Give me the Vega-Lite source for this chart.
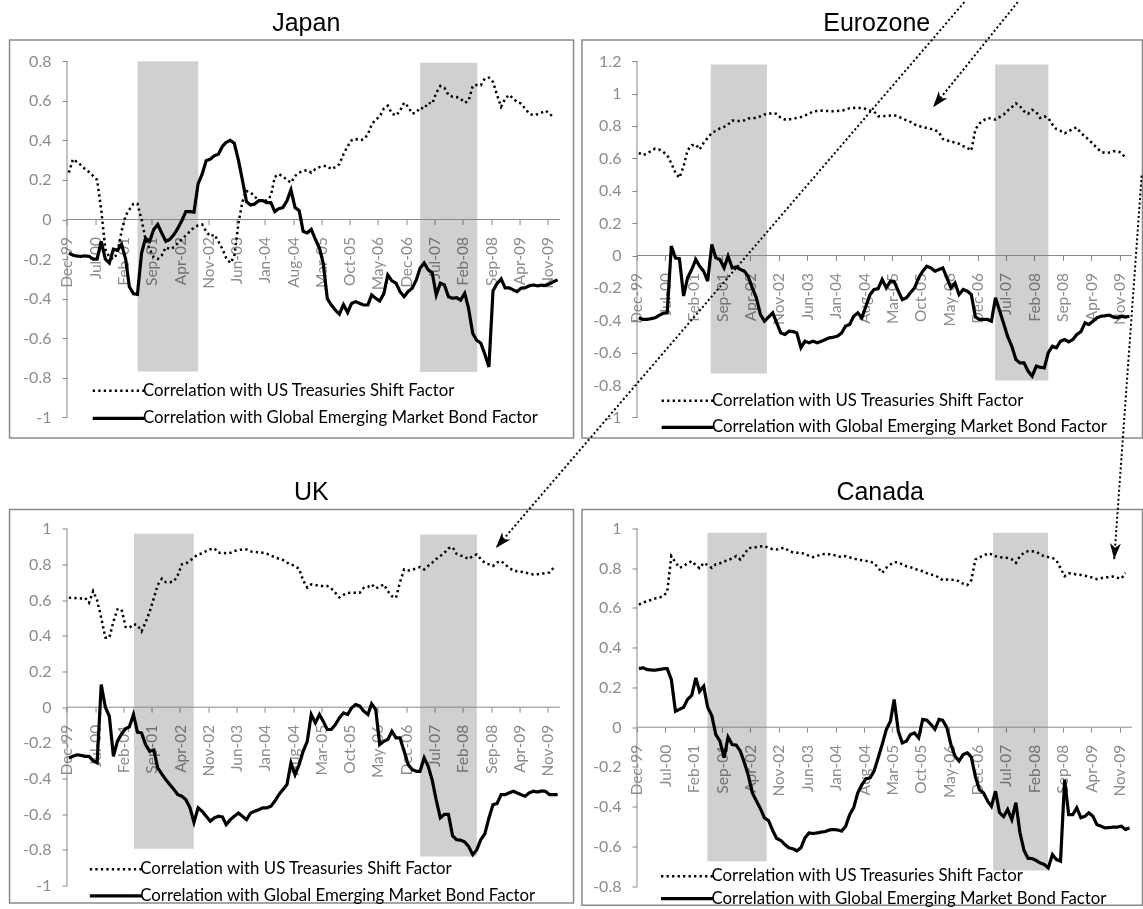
{
  "$schema": "https://vega.github.io/schema/vega-lite/v6.json",
  "background": "white",
  "padding": {"left": 8.55, "top": 0, "right": 0, "bottom": 0},
  "datasets": {
    "jp": [
      {"d":"1999-12-15","u":0.237,"g":-0.17},{"d":"2000-01-15","u":0.305,"g":-0.18},{"d":"2000-02-15","u":0.29,"g":-0.185},{"d":"2000-03-15","u":0.275,"g":-0.186},{"d":"2000-04-15","u":0.255,"g":-0.184},{"d":"2000-05-15","u":0.24,"g":-0.186},{"d":"2000-06-15","u":0.22,"g":-0.2},{"d":"2000-07-15","u":0.2,"g":-0.2},{"d":"2000-08-15","u":0.05,"g":-0.11},{"d":"2000-09-15","u":-0.15,"g":-0.2},{"d":"2000-10-15","u":-0.19,"g":-0.22},{"d":"2000-11-15","u":-0.2,"g":-0.15},{"d":"2000-12-15","u":-0.17,"g":-0.155},
      {"d":"2001-01-15","u":-0.06,"g":-0.125},{"d":"2001-02-15","u":0.02,"g":-0.2},{"d":"2001-03-15","u":0.05,"g":-0.34},{"d":"2001-04-15","u":0.08,"g":-0.375},{"d":"2001-05-15","u":0.08,"g":-0.378},{"d":"2001-06-15","u":0.0,"g":-0.17},{"d":"2001-07-15","u":-0.1,"g":-0.095},{"d":"2001-08-15","u":-0.15,"g":-0.11},{"d":"2001-09-15","u":-0.19,"g":-0.05},{"d":"2001-10-15","u":-0.2,"g":-0.025},{"d":"2001-11-15","u":-0.18,"g":-0.07},{"d":"2001-12-15","u":-0.14,"g":-0.11},
      {"d":"2002-01-15","u":-0.15,"g":-0.1},{"d":"2002-02-15","u":-0.14,"g":-0.075},{"d":"2002-03-15","u":-0.12,"g":-0.045},{"d":"2002-04-15","u":-0.1,"g":-0.005},{"d":"2002-05-15","u":-0.08,"g":0.04},{"d":"2002-06-15","u":-0.06,"g":0.04},{"d":"2002-07-15","u":-0.04,"g":0.037},{"d":"2002-08-15","u":-0.03,"g":0.18},{"d":"2002-09-15","u":-0.025,"g":0.23},{"d":"2002-10-15","u":-0.06,"g":0.297},{"d":"2002-11-15","u":-0.085,"g":0.305},{"d":"2002-12-15","u":-0.076,"g":0.322},
      {"d":"2003-01-15","u":-0.11,"g":0.33},{"d":"2003-02-15","u":-0.15,"g":0.37},{"d":"2003-03-15","u":-0.195,"g":0.39},{"d":"2003-04-15","u":-0.22,"g":0.4},{"d":"2003-05-15","u":-0.186,"g":0.385},{"d":"2003-06-15","u":-0.02,"g":0.3},{"d":"2003-07-15","u":0.09,"g":0.2},{"d":"2003-08-15","u":0.144,"g":0.09},{"d":"2003-09-15","u":0.137,"g":0.073},{"d":"2003-10-15","u":0.115,"g":0.078},{"d":"2003-11-15","u":0.1,"g":0.095},{"d":"2003-12-15","u":0.093,"g":0.095},
      {"d":"2004-01-15","u":0.097,"g":0.085},{"d":"2004-02-15","u":0.12,"g":0.085},{"d":"2004-03-15","u":0.215,"g":0.04},{"d":"2004-04-15","u":0.229,"g":0.055},{"d":"2004-05-15","u":0.218,"g":0.06},{"d":"2004-06-15","u":0.2,"g":0.095},{"d":"2004-07-15","u":0.186,"g":0.15},{"d":"2004-08-15","u":0.22,"g":0.06},{"d":"2004-09-15","u":0.237,"g":0.045},{"d":"2004-10-15","u":0.245,"g":-0.06},{"d":"2004-11-15","u":0.25,"g":-0.068},{"d":"2004-12-15","u":0.237,"g":-0.05},
      {"d":"2005-01-15","u":0.255,"g":-0.1},{"d":"2005-02-15","u":0.265,"g":-0.145},{"d":"2005-03-15","u":0.27,"g":-0.22},{"d":"2005-04-15","u":0.27,"g":-0.4},{"d":"2005-05-15","u":0.254,"g":-0.432},{"d":"2005-06-15","u":0.265,"g":-0.458},{"d":"2005-07-15","u":0.28,"g":-0.478},{"d":"2005-08-15","u":0.33,"g":-0.43},{"d":"2005-09-15","u":0.37,"g":-0.47},{"d":"2005-10-15","u":0.4,"g":-0.424},{"d":"2005-11-15","u":0.407,"g":-0.415},{"d":"2005-12-15","u":0.4,"g":-0.424},
      {"d":"2006-01-15","u":0.405,"g":-0.432},{"d":"2006-02-15","u":0.43,"g":-0.432},{"d":"2006-03-15","u":0.48,"g":-0.381},{"d":"2006-04-15","u":0.505,"g":-0.398},{"d":"2006-05-15","u":0.52,"g":-0.412},{"d":"2006-06-15","u":0.56,"g":-0.375},{"d":"2006-07-15","u":0.575,"g":-0.28},{"d":"2006-08-15","u":0.535,"g":-0.31},{"d":"2006-09-15","u":0.525,"g":-0.322},{"d":"2006-10-15","u":0.55,"g":-0.364},{"d":"2006-11-15","u":0.59,"g":-0.39},{"d":"2006-12-15","u":0.57,"g":-0.364},
      {"d":"2007-01-15","u":0.535,"g":-0.347},{"d":"2007-02-15","u":0.54,"g":-0.305},{"d":"2007-03-15","u":0.565,"g":-0.246},{"d":"2007-04-15","u":0.56,"g":-0.22},{"d":"2007-05-15","u":0.59,"g":-0.254},{"d":"2007-06-15","u":0.585,"g":-0.27},{"d":"2007-07-15","u":0.64,"g":-0.381},{"d":"2007-08-15","u":0.675,"g":-0.322},{"d":"2007-09-15","u":0.665,"g":-0.331},{"d":"2007-10-15","u":0.63,"g":-0.39},{"d":"2007-11-15","u":0.62,"g":-0.398},{"d":"2007-12-15","u":0.619,"g":-0.395},
      {"d":"2008-01-15","u":0.61,"g":-0.407},{"d":"2008-02-15","u":0.59,"g":-0.373},{"d":"2008-03-15","u":0.6,"g":-0.45},{"d":"2008-04-15","u":0.675,"g":-0.575},{"d":"2008-05-15","u":0.68,"g":-0.61},{"d":"2008-06-15","u":0.678,"g":-0.625},{"d":"2008-07-15","u":0.712,"g":-0.68},{"d":"2008-08-15","u":0.717,"g":-0.745},{"d":"2008-09-15","u":0.695,"g":-0.36},{"d":"2008-10-15","u":0.63,"g":-0.325},{"d":"2008-11-15","u":0.57,"g":-0.3},{"d":"2008-12-15","u":0.61,"g":-0.345},
      {"d":"2009-01-15","u":0.63,"g":-0.345},{"d":"2009-02-15","u":0.61,"g":-0.356},{"d":"2009-03-15","u":0.595,"g":-0.364},{"d":"2009-04-15","u":0.585,"g":-0.347},{"d":"2009-05-15","u":0.56,"g":-0.345},{"d":"2009-06-15","u":0.535,"g":-0.335},{"d":"2009-07-15","u":0.527,"g":-0.331},{"d":"2009-08-15","u":0.532,"g":-0.335},{"d":"2009-09-15","u":0.54,"g":-0.332},{"d":"2009-10-15","u":0.55,"g":-0.333},{"d":"2009-11-15","u":0.535,"g":-0.325},{"d":"2009-12-15","u":0.515,"g":-0.314},
      {"d":"2010-01-15","g":-0.305}
    ],
    "ez": [
      {"d":"1999-12-15","u":0.634,"g":-0.385},{"d":"2000-01-15","u":0.62,"g":-0.395},{"d":"2000-02-15","u":0.63,"g":-0.395},{"d":"2000-03-15","u":0.645,"g":-0.39},{"d":"2000-04-15","u":0.66,"g":-0.385},{"d":"2000-05-15","u":0.655,"g":-0.37},{"d":"2000-06-15","u":0.64,"g":-0.357},{"d":"2000-07-15","u":0.62,"g":-0.354},{"d":"2000-08-15","u":0.57,"g":0.058},{"d":"2000-09-15","u":0.51,"g":-0.015},{"d":"2000-10-15","u":0.48,"g":-0.02},{"d":"2000-11-15","u":0.55,"g":-0.25},{"d":"2000-12-15","u":0.65,"g":-0.138},
      {"d":"2001-01-15","u":0.681,"g":-0.086},{"d":"2001-02-15","u":0.685,"g":-0.025},{"d":"2001-03-15","u":0.655,"g":-0.066},{"d":"2001-04-15","u":0.696,"g":-0.097},{"d":"2001-05-15","u":0.727,"g":-0.158},{"d":"2001-06-15","u":0.757,"g":0.068},{"d":"2001-07-15","u":0.77,"g":-0.014},{"d":"2001-08-15","u":0.785,"g":-0.025},{"d":"2001-09-15","u":0.795,"g":-0.076},{"d":"2001-10-15","u":0.809,"g":-0.004},{"d":"2001-11-15","u":0.834,"g":-0.076},{"d":"2001-12-15","u":0.83,"g":-0.07},
      {"d":"2002-01-15","u":0.83,"g":-0.086},{"d":"2002-02-15","u":0.835,"g":-0.097},{"d":"2002-03-15","u":0.846,"g":-0.13},{"d":"2002-04-15","u":0.848,"g":-0.2},{"d":"2002-05-15","u":0.85,"g":-0.261},{"d":"2002-06-15","u":0.86,"g":-0.364},{"d":"2002-07-15","u":0.871,"g":-0.406},{"d":"2002-08-15","u":0.875,"g":-0.38},{"d":"2002-09-15","u":0.88,"g":-0.354},{"d":"2002-10-15","u":0.875,"g":-0.416},{"d":"2002-11-15","u":0.85,"g":-0.478},{"d":"2002-12-15","u":0.84,"g":-0.488},
      {"d":"2003-01-15","u":0.84,"g":-0.467},{"d":"2003-02-15","u":0.845,"g":-0.47},{"d":"2003-03-15","u":0.85,"g":-0.478},{"d":"2003-04-15","u":0.855,"g":-0.57},{"d":"2003-05-15","u":0.865,"g":-0.529},{"d":"2003-06-15","u":0.875,"g":-0.539},{"d":"2003-07-15","u":0.89,"g":-0.529},{"d":"2003-08-15","u":0.893,"g":-0.539},{"d":"2003-09-15","u":0.895,"g":-0.53},{"d":"2003-10-15","u":0.893,"g":-0.519},{"d":"2003-11-15","u":0.892,"g":-0.508},{"d":"2003-12-15","u":0.891,"g":-0.505},
      {"d":"2004-01-15","u":0.893,"g":-0.498},{"d":"2004-02-15","u":0.895,"g":-0.478},{"d":"2004-03-15","u":0.9,"g":-0.436},{"d":"2004-04-15","u":0.91,"g":-0.426},{"d":"2004-05-15","u":0.912,"g":-0.375},{"d":"2004-06-15","u":0.91,"g":-0.354},{"d":"2004-07-15","u":0.912,"g":-0.385},{"d":"2004-08-15","u":0.905,"g":-0.313},{"d":"2004-09-15","u":0.895,"g":-0.241},{"d":"2004-10-15","u":0.89,"g":-0.21},{"d":"2004-11-15","u":0.86,"g":-0.204},{"d":"2004-12-15","u":0.86,"g":-0.148},
      {"d":"2005-01-15","u":0.862,"g":-0.2},{"d":"2005-02-15","u":0.864,"g":-0.158},{"d":"2005-03-15","u":0.866,"g":-0.16},{"d":"2005-04-15","u":0.86,"g":-0.22},{"d":"2005-05-15","u":0.845,"g":-0.272},{"d":"2005-06-15","u":0.835,"g":-0.261},{"d":"2005-07-15","u":0.826,"g":-0.23},{"d":"2005-08-15","u":0.81,"g":-0.2},{"d":"2005-09-15","u":0.8,"g":-0.138},{"d":"2005-10-15","u":0.793,"g":-0.097},{"d":"2005-11-15","u":0.788,"g":-0.066},{"d":"2005-12-15","u":0.782,"g":-0.076},
      {"d":"2006-01-15","u":0.775,"g":-0.097},{"d":"2006-02-15","u":0.76,"g":-0.086},{"d":"2006-03-15","u":0.72,"g":-0.076},{"d":"2006-04-15","u":0.71,"g":-0.138},{"d":"2006-05-15","u":0.706,"g":-0.2},{"d":"2006-06-15","u":0.696,"g":-0.169},{"d":"2006-07-15","u":0.69,"g":-0.241},{"d":"2006-08-15","u":0.675,"g":-0.21},{"d":"2006-09-15","u":0.665,"g":-0.22},{"d":"2006-10-15","u":0.648,"g":-0.241},{"d":"2006-11-15","u":0.78,"g":-0.38},{"d":"2006-12-15","u":0.815,"g":-0.395},
      {"d":"2007-01-15","u":0.835,"g":-0.395},{"d":"2007-02-15","u":0.85,"g":-0.395},{"d":"2007-03-15","u":0.845,"g":-0.406},{"d":"2007-04-15","u":0.84,"g":-0.261},{"d":"2007-05-15","u":0.855,"g":-0.34},{"d":"2007-06-15","u":0.87,"g":-0.42},{"d":"2007-07-15","u":0.895,"g":-0.5},{"d":"2007-08-15","u":0.916,"g":-0.56},{"d":"2007-09-15","u":0.94,"g":-0.642},{"d":"2007-10-15","u":0.922,"g":-0.663},{"d":"2007-11-15","u":0.891,"g":-0.663},{"d":"2007-12-15","u":0.875,"g":-0.714},
      {"d":"2008-01-15","u":0.9,"g":-0.745},{"d":"2008-02-15","u":0.885,"g":-0.683},{"d":"2008-03-15","u":0.85,"g":-0.69},{"d":"2008-04-15","u":0.86,"g":-0.694},{"d":"2008-05-15","u":0.85,"g":-0.6},{"d":"2008-06-15","u":0.809,"g":-0.56},{"d":"2008-07-15","u":0.78,"g":-0.57},{"d":"2008-08-15","u":0.77,"g":-0.529},{"d":"2008-09-15","u":0.755,"g":-0.519},{"d":"2008-10-15","u":0.765,"g":-0.533},{"d":"2008-11-15","u":0.785,"g":-0.519},{"d":"2008-12-15","u":0.79,"g":-0.488},
      {"d":"2009-01-15","u":0.757,"g":-0.47},{"d":"2009-02-15","u":0.735,"g":-0.416},{"d":"2009-03-15","u":0.715,"g":-0.426},{"d":"2009-04-15","u":0.69,"g":-0.406},{"d":"2009-05-15","u":0.665,"g":-0.385},{"d":"2009-06-15","u":0.64,"g":-0.375},{"d":"2009-07-15","u":0.634,"g":-0.372},{"d":"2009-08-15","u":0.636,"g":-0.368},{"d":"2009-09-15","u":0.644,"g":-0.38},{"d":"2009-10-15","u":0.645,"g":-0.385},{"d":"2009-11-15","u":0.634,"g":-0.375},{"d":"2009-12-15","u":0.603,"g":-0.38},
      {"d":"2010-01-15","g":-0.375}
    ],
    "uk": [
      {"d":"1999-12-15","u":0.613,"g":-0.284},{"d":"2000-01-15","u":0.613,"g":-0.275},{"d":"2000-02-15","u":0.61,"g":-0.267},{"d":"2000-03-15","u":0.609,"g":-0.27},{"d":"2000-04-15","u":0.613,"g":-0.275},{"d":"2000-05-15","u":0.585,"g":-0.275},{"d":"2000-06-15","u":0.65,"g":-0.3},{"d":"2000-07-15","u":0.6,"g":-0.312},{"d":"2000-08-15","u":0.5,"g":0.127},{"d":"2000-09-15","u":0.39,"g":0.0},{"d":"2000-10-15","u":0.389,"g":-0.05},{"d":"2000-11-15","u":0.48,"g":-0.275},{"d":"2000-12-15","u":0.548,"g":-0.191},
      {"d":"2001-01-15","u":0.548,"g":-0.15},{"d":"2001-02-15","u":0.45,"g":-0.12},{"d":"2001-03-15","u":0.445,"g":-0.11},{"d":"2001-04-15","u":0.465,"g":-0.041},{"d":"2001-05-15","u":0.46,"g":-0.14},{"d":"2001-06-15","u":0.425,"g":-0.144},{"d":"2001-07-15","u":0.475,"g":-0.209},{"d":"2001-08-15","u":0.535,"g":-0.247},{"d":"2001-09-15","u":0.61,"g":-0.24},{"d":"2001-10-15","u":0.685,"g":-0.34},{"d":"2001-11-15","u":0.72,"g":-0.375},{"d":"2001-12-15","u":0.7,"g":-0.406},
      {"d":"2002-01-15","u":0.7,"g":-0.434},{"d":"2002-02-15","u":0.705,"g":-0.462},{"d":"2002-03-15","u":0.74,"g":-0.49},{"d":"2002-04-15","u":0.8,"g":-0.499},{"d":"2002-05-15","u":0.805,"g":-0.518},{"d":"2002-06-15","u":0.82,"g":-0.564},{"d":"2002-07-15","u":0.84,"g":-0.645},{"d":"2002-08-15","u":0.856,"g":-0.564},{"d":"2002-09-15","u":0.862,"g":-0.583},{"d":"2002-10-15","u":0.875,"g":-0.611},{"d":"2002-11-15","u":0.885,"g":-0.639},{"d":"2002-12-15","u":0.89,"g":-0.62},
      {"d":"2003-01-15","u":0.865,"g":-0.611},{"d":"2003-02-15","u":0.865,"g":-0.615},{"d":"2003-03-15","u":0.862,"g":-0.658},{"d":"2003-04-15","u":0.865,"g":-0.63},{"d":"2003-05-15","u":0.875,"g":-0.611},{"d":"2003-06-15","u":0.88,"g":-0.593},{"d":"2003-07-15","u":0.884,"g":-0.611},{"d":"2003-08-15","u":0.884,"g":-0.63},{"d":"2003-09-15","u":0.873,"g":-0.593},{"d":"2003-10-15","u":0.87,"g":-0.583},{"d":"2003-11-15","u":0.868,"g":-0.574},{"d":"2003-12-15","u":0.865,"g":-0.564},
      {"d":"2004-01-15","u":0.86,"g":-0.564},{"d":"2004-02-15","u":0.85,"g":-0.555},{"d":"2004-03-15","u":0.84,"g":-0.527},{"d":"2004-04-15","u":0.832,"g":-0.49},{"d":"2004-05-15","u":0.825,"g":-0.462},{"d":"2004-06-15","u":0.81,"g":-0.434},{"d":"2004-07-15","u":0.8,"g":-0.312},{"d":"2004-08-15","u":0.791,"g":-0.378},{"d":"2004-09-15","u":0.775,"g":-0.321},{"d":"2004-10-15","u":0.71,"g":-0.247},{"d":"2004-11-15","u":0.67,"g":-0.191},{"d":"2004-12-15","u":0.688,"g":-0.041},
      {"d":"2005-01-15","u":0.685,"g":-0.088},{"d":"2005-02-15","u":0.68,"g":-0.041},{"d":"2005-03-15","u":0.679,"g":-0.079},{"d":"2005-04-15","u":0.679,"g":-0.125},{"d":"2005-05-15","u":0.665,"g":-0.125},{"d":"2005-06-15","u":0.64,"g":-0.097},{"d":"2005-07-15","u":0.615,"g":-0.06},{"d":"2005-08-15","u":0.63,"g":-0.032},{"d":"2005-09-15","u":0.64,"g":-0.041},{"d":"2005-10-15","u":0.641,"g":-0.004},{"d":"2005-11-15","u":0.641,"g":0.015},{"d":"2005-12-15","u":0.641,"g":0.006},
      {"d":"2006-01-15","u":0.669,"g":-0.022},{"d":"2006-02-15","u":0.673,"g":-0.041},{"d":"2006-03-15","u":0.688,"g":0.019},{"d":"2006-04-15","u":0.666,"g":-0.013},{"d":"2006-05-15","u":0.675,"g":-0.209},{"d":"2006-06-15","u":0.688,"g":-0.191},{"d":"2006-07-15","u":0.65,"g":-0.181},{"d":"2006-08-15","u":0.622,"g":-0.135},{"d":"2006-09-15","u":0.613,"g":-0.172},{"d":"2006-10-15","u":0.7,"g":-0.172},{"d":"2006-11-15","u":0.772,"g":-0.247},{"d":"2006-12-15","u":0.766,"g":-0.321},
      {"d":"2007-01-15","u":0.77,"g":-0.35},{"d":"2007-02-15","u":0.778,"g":-0.359},{"d":"2007-03-15","u":0.785,"g":-0.359},{"d":"2007-04-15","u":0.772,"g":-0.284},{"d":"2007-05-15","u":0.791,"g":-0.33},{"d":"2007-06-15","u":0.81,"g":-0.41},{"d":"2007-07-15","u":0.83,"g":-0.52},{"d":"2007-08-15","u":0.847,"g":-0.62},{"d":"2007-09-15","u":0.865,"g":-0.6},{"d":"2007-10-15","u":0.89,"g":-0.6},{"d":"2007-11-15","u":0.897,"g":-0.72},{"d":"2007-12-15","u":0.86,"g":-0.742},
      {"d":"2008-01-15","u":0.85,"g":-0.745},{"d":"2008-02-15","u":0.841,"g":-0.755},{"d":"2008-03-15","u":0.83,"g":-0.78},{"d":"2008-04-15","u":0.847,"g":-0.826},{"d":"2008-05-15","u":0.856,"g":-0.8},{"d":"2008-06-15","u":0.83,"g":-0.742},{"d":"2008-07-15","u":0.809,"g":-0.71},{"d":"2008-08-15","u":0.8,"g":-0.621},{"d":"2008-09-15","u":0.791,"g":-0.546},{"d":"2008-10-15","u":0.81,"g":-0.54},{"d":"2008-11-15","u":0.819,"g":-0.49},{"d":"2008-12-15","u":0.8,"g":-0.49},
      {"d":"2009-01-15","u":0.781,"g":-0.48},{"d":"2009-02-15","u":0.765,"g":-0.471},{"d":"2009-03-15","u":0.762,"g":-0.48},{"d":"2009-04-15","u":0.759,"g":-0.49},{"d":"2009-05-15","u":0.755,"g":-0.499},{"d":"2009-06-15","u":0.748,"g":-0.48},{"d":"2009-07-15","u":0.744,"g":-0.471},{"d":"2009-08-15","u":0.745,"g":-0.475},{"d":"2009-09-15","u":0.748,"g":-0.47},{"d":"2009-10-15","u":0.75,"g":-0.471},{"d":"2009-11-15","u":0.755,"g":-0.49},{"d":"2009-12-15","u":0.781,"g":-0.49},
      {"d":"2010-01-15","g":-0.49}
    ],
    "ca": [
      {"d":"1999-12-15","u":0.617,"g":0.295},{"d":"2000-01-15","u":0.626,"g":0.299},{"d":"2000-02-15","u":0.635,"g":0.29},{"d":"2000-03-15","u":0.64,"g":0.288},{"d":"2000-04-15","u":0.648,"g":0.287},{"d":"2000-05-15","u":0.651,"g":0.29},{"d":"2000-06-15","u":0.66,"g":0.294},{"d":"2000-07-15","u":0.68,"g":0.295},{"d":"2000-08-15","u":0.861,"g":0.24},{"d":"2000-09-15","u":0.83,"g":0.08},{"d":"2000-10-15","u":0.802,"g":0.09},{"d":"2000-11-15","u":0.81,"g":0.1},{"d":"2000-12-15","u":0.825,"g":0.14},
      {"d":"2001-01-15","u":0.836,"g":0.16},{"d":"2001-02-15","u":0.815,"g":0.248},{"d":"2001-03-15","u":0.8,"g":0.18},{"d":"2001-04-15","u":0.827,"g":0.206},{"d":"2001-05-15","u":0.815,"g":0.1},{"d":"2001-06-15","u":0.802,"g":0.058},{"d":"2001-07-15","u":0.82,"g":-0.037},{"d":"2001-08-15","u":0.825,"g":-0.07},{"d":"2001-09-15","u":0.835,"g":-0.154},{"d":"2001-10-15","u":0.84,"g":-0.05},{"d":"2001-11-15","u":0.85,"g":-0.087},{"d":"2001-12-15","u":0.861,"g":-0.09},
      {"d":"2002-01-15","u":0.844,"g":-0.12},{"d":"2002-02-15","u":0.87,"g":-0.18},{"d":"2002-03-15","u":0.9,"g":-0.24},{"d":"2002-04-15","u":0.905,"g":-0.33},{"d":"2002-05-15","u":0.906,"g":-0.37},{"d":"2002-06-15","u":0.91,"g":-0.41},{"d":"2002-07-15","u":0.911,"g":-0.456},{"d":"2002-08-15","u":0.903,"g":-0.47},{"d":"2002-09-15","u":0.895,"g":-0.52},{"d":"2002-10-15","u":0.894,"g":-0.56},{"d":"2002-11-15","u":0.9,"g":-0.57},{"d":"2002-12-15","u":0.903,"g":-0.59},
      {"d":"2003-01-15","u":0.886,"g":-0.607},{"d":"2003-02-15","u":0.88,"g":-0.612},{"d":"2003-03-15","u":0.878,"g":-0.622},{"d":"2003-04-15","u":0.878,"g":-0.607},{"d":"2003-05-15","u":0.872,"g":-0.557},{"d":"2003-06-15","u":0.862,"g":-0.532},{"d":"2003-07-15","u":0.856,"g":-0.535},{"d":"2003-08-15","u":0.862,"g":-0.532},{"d":"2003-09-15","u":0.87,"g":-0.528},{"d":"2003-10-15","u":0.872,"g":-0.525},{"d":"2003-11-15","u":0.87,"g":-0.517},{"d":"2003-12-15","u":0.867,"g":-0.515},
      {"d":"2004-01-15","u":0.86,"g":-0.517},{"d":"2004-02-15","u":0.856,"g":-0.523},{"d":"2004-03-15","u":0.861,"g":-0.5},{"d":"2004-04-15","u":0.855,"g":-0.44},{"d":"2004-05-15","u":0.848,"g":-0.405},{"d":"2004-06-15","u":0.844,"g":-0.33},{"d":"2004-07-15","u":0.84,"g":-0.29},{"d":"2004-08-15","u":0.837,"g":-0.26},{"d":"2004-09-15","u":0.832,"g":-0.255},{"d":"2004-10-15","u":0.827,"g":-0.221},{"d":"2004-11-15","u":0.802,"g":-0.154},{"d":"2004-12-15","u":0.777,"g":-0.087},
      {"d":"2005-01-15","u":0.802,"g":-0.012},{"d":"2005-02-15","u":0.819,"g":0.03},{"d":"2005-03-15","u":0.83,"g":0.139},{"d":"2005-04-15","u":0.83,"g":-0.02},{"d":"2005-05-15","u":0.819,"g":-0.079},{"d":"2005-06-15","u":0.81,"g":-0.07},{"d":"2005-07-15","u":0.805,"g":-0.037},{"d":"2005-08-15","u":0.798,"g":-0.029},{"d":"2005-09-15","u":0.79,"g":-0.054},{"d":"2005-10-15","u":0.785,"g":0.039},{"d":"2005-11-15","u":0.775,"g":0.035},{"d":"2005-12-15","u":0.768,"g":0.015},
      {"d":"2006-01-15","u":0.765,"g":-0.01},{"d":"2006-02-15","u":0.752,"g":0.039},{"d":"2006-03-15","u":0.74,"g":0.034},{"d":"2006-04-15","u":0.743,"g":-0.003},{"d":"2006-05-15","u":0.743,"g":-0.087},{"d":"2006-06-15","u":0.74,"g":-0.146},{"d":"2006-07-15","u":0.735,"g":-0.17},{"d":"2006-08-15","u":0.722,"g":-0.138},{"d":"2006-09-15","u":0.715,"g":-0.129},{"d":"2006-10-15","u":0.74,"g":-0.15},{"d":"2006-11-15","u":0.844,"g":-0.25},{"d":"2006-12-15","u":0.856,"g":-0.314},
      {"d":"2007-01-15","u":0.862,"g":-0.331},{"d":"2007-02-15","u":0.875,"g":-0.372},{"d":"2007-03-15","u":0.87,"g":-0.398},{"d":"2007-04-15","u":0.86,"g":-0.322},{"d":"2007-05-15","u":0.856,"g":-0.43},{"d":"2007-06-15","u":0.853,"g":-0.45},{"d":"2007-07-15","u":0.852,"g":-0.414},{"d":"2007-08-15","u":0.845,"g":-0.465},{"d":"2007-09-15","u":0.827,"g":-0.38},{"d":"2007-10-15","u":0.861,"g":-0.53},{"d":"2007-11-15","u":0.878,"g":-0.62},{"d":"2007-12-15","u":0.886,"g":-0.66},
      {"d":"2008-01-15","u":0.885,"g":-0.661},{"d":"2008-02-15","u":0.883,"g":-0.671},{"d":"2008-03-15","u":0.87,"g":-0.683},{"d":"2008-04-15","u":0.86,"g":-0.691},{"d":"2008-05-15","u":0.856,"g":-0.708},{"d":"2008-06-15","u":0.852,"g":-0.641},{"d":"2008-07-15","u":0.84,"g":-0.666},{"d":"2008-08-15","u":0.8,"g":-0.674},{"d":"2008-09-15","u":0.76,"g":-0.263},{"d":"2008-10-15","u":0.775,"g":-0.44},{"d":"2008-11-15","u":0.772,"g":-0.44},{"d":"2008-12-15","u":0.768,"g":-0.406},
      {"d":"2009-01-15","u":0.766,"g":-0.456},{"d":"2009-02-15","u":0.762,"g":-0.448},{"d":"2009-03-15","u":0.758,"g":-0.431},{"d":"2009-04-15","u":0.752,"g":-0.448},{"d":"2009-05-15","u":0.745,"g":-0.49},{"d":"2009-06-15","u":0.75,"g":-0.498},{"d":"2009-07-15","u":0.755,"g":-0.507},{"d":"2009-08-15","u":0.755,"g":-0.505},{"d":"2009-09-15","u":0.758,"g":-0.503},{"d":"2009-10-15","u":0.752,"g":-0.503},{"d":"2009-11-15","u":0.748,"g":-0.498},{"d":"2009-12-15","u":0.777,"g":-0.515},
      {"d":"2010-01-15","g":-0.507}
    ]
  },
  "concat": [
    {
      "width": 564, "height": 398,
      "title": {"text": "Japan", "dx": 14.7},
      "layer": [
        {
          "data": {"values": [
            {"a":"2001-05-16","b":"2002-08-16","lo":-0.768,"hi":0.8},
            {"a":"2007-03-16","b":"2008-05-19","lo":-0.771,"hi":0.792}
          ]},
          "mark": {"type": "rect", "color": "#d0d0d0", "blend": "multiply"},
          "encoding": {
            "x": {"field": "a", "type": "temporal",
                  "scale": {"type": "utc", "nice": false, "domain": [{"year":1998,"month":9,"date":24,"utc":true},{"year":2010,"month":5,"date":15,"utc":true}]},
                  "axis": {"offset": -218.49, "format": "%b-%y", "tickCount": 60, "zindex": 0, "labelOverlap": false, "labelBound": false, "labelFlush": false, "values": [{"year":1999,"month":12,"date":1,"utc":true},{"year":2000,"month":7,"date":1,"utc":true},{"year":2001,"month":2,"date":1,"utc":true},{"year":2001,"month":9,"date":1,"utc":true},{"year":2002,"month":4,"date":1,"utc":true},{"year":2002,"month":11,"date":1,"utc":true},{"year":2003,"month":6,"date":1,"utc":true},{"year":2004,"month":1,"date":1,"utc":true},{"year":2004,"month":8,"date":1,"utc":true},{"year":2005,"month":3,"date":1,"utc":true},{"year":2005,"month":10,"date":1,"utc":true},{"year":2006,"month":5,"date":1,"utc":true},{"year":2006,"month":12,"date":1,"utc":true},{"year":2007,"month":7,"date":1,"utc":true},{"year":2008,"month":2,"date":1,"utc":true},{"year":2008,"month":9,"date":1,"utc":true},{"year":2009,"month":4,"date":1,"utc":true},{"year":2009,"month":11,"date":1,"utc":true}]}},
            "x2": {"field": "b"},
            "y": {"field": "lo", "type": "quantitative",
                  "scale": {"domain": [-1.104, 0.907], "nice": false, "zero": false},
                  "axis": {"offset": -57.4, "format": "~g", "tickCount": 60, "labelOverlap": false, "labelBound": false, "labelFlush": false, "values": [-1, -0.8, -0.6, -0.4, -0.2, 0, 0.2, 0.4, 0.6, 0.8]}},
            "y2": {"field": "hi"}
          }
        },
        {
          "data": {"values": [{}]},
          "mark": {"type": "rule", "color": "#888888", "strokeWidth": 1},
          "encoding": {
            "x": {"datum": {"year":1999,"month":12,"date":1,"utc":true}, "type": "temporal"},
            "x2": {"datum": {"year":2010,"month":2,"date":1,"utc":true}},
            "y": {"datum": 0, "type": "quantitative"}
          }
        },
        {
          "data": {"values": [{}]},
          "mark": {"type": "rule", "color": "#888888", "strokeWidth": 1},
          "encoding": {
            "x": {"datum": {"year":1999,"month":12,"date":1,"utc":true}, "type": "temporal"},
            "y": {"datum": -1, "type": "quantitative"},
            "y2": {"datum": 0.8}
          }
        },
        {
          "data": {"name": "jp"},
          "transform": [{"fold": ["u", "g"], "as": ["s", "v"]}, {"filter": "isValid(datum.v)"}],
          "mark": {"type": "line", "color": "black"},
          "encoding": {
            "x": {"field": "d", "type": "temporal"},
            "y": {"field": "v", "type": "quantitative"},
            "strokeDash": {"field": "s", "type": "nominal",
              "scale": {"domain": ["u", "g"], "range": [[2.3, 3.2], [1, 0]]},
              "legend": {"title": null, "orient": "none", "legendX": 92.7, "legendY": 334.8, "symbolType": "M-1.769,0L1.769,0", "symbolSize": 864, "labelOffset": 7.8,
                "labelExpr": "datum.value == 'u' ? 'Correlation with US Treasuries Shift Factor' : 'Correlation with Global Emerging Market Bond Factor'"}},
            "strokeWidth": {"field": "s", "type": "nominal", "scale": {"domain": ["u", "g"], "range": [2.5, 3.2]}, "legend": null}
          }
        }
      ]
    },
    {
      "width": 560.5, "height": 398,
      "title": {"text": "Eurozone", "dx": 14.5},
      "layer": [
        {
          "data": {"values": [
            {"a":"2001-06-07","b":"2002-08-03","lo":-0.729,"hi":1.18},
            {"a":"2007-04-12","b":"2008-05-16","lo":-0.772,"hi":1.18}
          ]},
          "mark": {"type": "rect", "color": "#d0d0d0", "blend": "multiply"},
          "encoding": {
            "x": {"field": "a", "type": "temporal",
                  "scale": {"type": "utc", "nice": false, "domain": [{"year":1998,"month":10,"date":14,"utc":true},{"year":2010,"month":4,"date":22,"utc":true}]},
                  "axis": {"offset": -182.48, "format": "%b-%y", "tickCount": 60, "zindex": 0, "labelOverlap": false, "labelBound": false, "labelFlush": false, "values": [{"year":1999,"month":12,"date":1,"utc":true},{"year":2000,"month":7,"date":1,"utc":true},{"year":2001,"month":2,"date":1,"utc":true},{"year":2001,"month":9,"date":1,"utc":true},{"year":2002,"month":4,"date":1,"utc":true},{"year":2002,"month":11,"date":1,"utc":true},{"year":2003,"month":6,"date":1,"utc":true},{"year":2004,"month":1,"date":1,"utc":true},{"year":2004,"month":8,"date":1,"utc":true},{"year":2005,"month":3,"date":1,"utc":true},{"year":2005,"month":10,"date":1,"utc":true},{"year":2006,"month":5,"date":1,"utc":true},{"year":2006,"month":12,"date":1,"utc":true},{"year":2007,"month":7,"date":1,"utc":true},{"year":2008,"month":2,"date":1,"utc":true},{"year":2008,"month":9,"date":1,"utc":true},{"year":2009,"month":4,"date":1,"utc":true},{"year":2009,"month":11,"date":1,"utc":true}]}},
            "x2": {"field": "b"},
            "y": {"field": "lo", "type": "quantitative",
                  "scale": {"domain": [-1.127, 1.331], "nice": false, "zero": false},
                  "axis": {"offset": -55, "format": "~g", "tickCount": 60, "labelOverlap": false, "labelBound": false, "labelFlush": false, "values": [-1, -0.8, -0.6, -0.4, -0.2, 0, 0.2, 0.4, 0.6, 0.8, 1, 1.2]}},
            "y2": {"field": "hi"}
          }
        },
        {
          "data": {"values": [{}]},
          "mark": {"type": "rule", "color": "#888888", "strokeWidth": 1},
          "encoding": {
            "x": {"datum": {"year":1999,"month":12,"date":1,"utc":true}, "type": "temporal"},
            "x2": {"datum": {"year":2010,"month":2,"date":1,"utc":true}},
            "y": {"datum": 0, "type": "quantitative"}
          }
        },
        {
          "data": {"values": [{}]},
          "mark": {"type": "rule", "color": "#888888", "strokeWidth": 1},
          "encoding": {
            "x": {"datum": {"year":1999,"month":12,"date":1,"utc":true}, "type": "temporal"},
            "y": {"datum": -1, "type": "quantitative"},
            "y2": {"datum": 1.2}
          }
        },
        {
          "data": {"name": "ez"},
          "transform": [{"fold": ["u", "g"], "as": ["s", "v"]}, {"filter": "isValid(datum.v)"}],
          "mark": {"type": "line", "color": "black"},
          "encoding": {
            "x": {"field": "d", "type": "temporal"},
            "y": {"field": "v", "type": "quantitative"},
            "strokeDash": {"field": "s", "type": "nominal",
              "scale": {"domain": ["u", "g"], "range": [[2.3, 3.2], [1, 0]]},
              "legend": {"title": null, "orient": "none", "legendX": 90.2, "legendY": 345.8, "symbolType": "M-1.898,0L1.898,0", "symbolSize": 751, "labelOffset": 8.8,
                "labelExpr": "datum.value == 'u' ? 'Correlation with US Treasuries Shift Factor' : 'Correlation with Global Emerging Market Bond Factor'"}},
            "strokeWidth": {"field": "s", "type": "nominal", "scale": {"domain": ["u", "g"], "range": [2.5, 3.2]}, "legend": null}
          }
        }
      ]
    },
    {
      "width": 564, "height": 393.4,
      "title": {"text": "UK", "dx": 19.7},
      "layer": [
        {
          "data": {"values": [
            {"a":"2001-04-19","b":"2002-07-13","lo":-0.793,"hi":0.972},
            {"a":"2007-03-16","b":"2008-05-16","lo":-0.836,"hi":0.968}
          ]},
          "mark": {"type": "rect", "color": "#d0d0d0", "blend": "multiply"},
          "encoding": {
            "x": {"field": "a", "type": "temporal",
                  "scale": {"type": "utc", "nice": false, "domain": [{"year":1998,"month":9,"date":24,"utc":true},{"year":2010,"month":5,"date":15,"utc":true}]},
                  "axis": {"offset": -195.7, "format": "%b-%y", "tickCount": 60, "zindex": 0, "labelOverlap": false, "labelBound": false, "labelFlush": false, "values": [{"year":1999,"month":12,"date":1,"utc":true},{"year":2000,"month":7,"date":1,"utc":true},{"year":2001,"month":2,"date":1,"utc":true},{"year":2001,"month":9,"date":1,"utc":true},{"year":2002,"month":4,"date":1,"utc":true},{"year":2002,"month":11,"date":1,"utc":true},{"year":2003,"month":6,"date":1,"utc":true},{"year":2004,"month":1,"date":1,"utc":true},{"year":2004,"month":8,"date":1,"utc":true},{"year":2005,"month":3,"date":1,"utc":true},{"year":2005,"month":10,"date":1,"utc":true},{"year":2006,"month":5,"date":1,"utc":true},{"year":2006,"month":12,"date":1,"utc":true},{"year":2007,"month":7,"date":1,"utc":true},{"year":2008,"month":2,"date":1,"utc":true},{"year":2008,"month":9,"date":1,"utc":true},{"year":2009,"month":4,"date":1,"utc":true},{"year":2009,"month":11,"date":1,"utc":true}]}},
            "x2": {"field": "b"},
            "y": {"field": "lo", "type": "quantitative",
                  "scale": {"domain": [-1.0964, 1.1076], "nice": false, "zero": false},
                  "axis": {"offset": -57.4, "format": "~g", "tickCount": 60, "labelOverlap": false, "labelBound": false, "labelFlush": false, "values": [-1, -0.8, -0.6, -0.4, -0.2, 0, 0.2, 0.4, 0.6, 0.8, 1]}},
            "y2": {"field": "hi"}
          }
        },
        {
          "data": {"values": [{}]},
          "mark": {"type": "rule", "color": "#888888", "strokeWidth": 1},
          "encoding": {
            "x": {"datum": {"year":1999,"month":12,"date":1,"utc":true}, "type": "temporal"},
            "x2": {"datum": {"year":2010,"month":2,"date":1,"utc":true}},
            "y": {"datum": 0, "type": "quantitative"}
          }
        },
        {
          "data": {"values": [{}]},
          "mark": {"type": "rule", "color": "#888888", "strokeWidth": 1},
          "encoding": {
            "x": {"datum": {"year":1999,"month":12,"date":1,"utc":true}, "type": "temporal"},
            "y": {"datum": -1, "type": "quantitative"},
            "y2": {"datum": 1}
          }
        },
        {
          "data": {"name": "uk"},
          "transform": [{"fold": ["u", "g"], "as": ["s", "v"]}, {"filter": "isValid(datum.v)"}],
          "mark": {"type": "line", "color": "black"},
          "encoding": {
            "x": {"field": "d", "type": "temporal"},
            "y": {"field": "v", "type": "quantitative"},
            "strokeDash": {"field": "s", "type": "nominal",
              "scale": {"domain": ["u", "g"], "range": [[2.3, 3.2], [1, 0]]},
              "legend": {"title": null, "orient": "none", "legendX": 90.8, "legendY": 344.8, "symbolType": "M-1.912,0L1.912,0", "symbolSize": 740, "labelOffset": 8.9,
                "labelExpr": "datum.value == 'u' ? 'Correlation with US Treasuries Shift Factor' : 'Correlation with Global Emerging Market Bond Factor'"}},
            "strokeWidth": {"field": "s", "type": "nominal", "scale": {"domain": ["u", "g"], "range": [2.5, 3.2]}, "legend": null}
          }
        }
      ]
    },
    {
      "width": 560.5, "height": 395.7,
      "title": {"text": "Canada", "dx": 18, "dy": 507.9},
      "layer": [
        {
          "data": {"values": [
            {"a":"2001-05-13","b":"2002-08-01","lo":-0.674,"hi":0.978},
            {"a":"2007-03-28","b":"2008-05-13","lo":-0.721,"hi":0.978}
          ]},
          "mark": {"type": "rect", "color": "#d0d0d0", "blend": "multiply"},
          "encoding": {
            "x": {"field": "a", "type": "temporal",
                  "scale": {"type": "utc", "nice": false, "domain": [{"year":1998,"month":10,"date":14,"utc":true},{"year":2010,"month":4,"date":22,"utc":true}]},
                  "axis": {"offset": -178.0, "format": "%b-%y", "tickCount": 60, "zindex": 0, "labelOverlap": false, "labelBound": false, "labelFlush": false, "values": [{"year":1999,"month":12,"date":1,"utc":true},{"year":2000,"month":7,"date":1,"utc":true},{"year":2001,"month":2,"date":1,"utc":true},{"year":2001,"month":9,"date":1,"utc":true},{"year":2002,"month":4,"date":1,"utc":true},{"year":2002,"month":11,"date":1,"utc":true},{"year":2003,"month":6,"date":1,"utc":true},{"year":2004,"month":1,"date":1,"utc":true},{"year":2004,"month":8,"date":1,"utc":true},{"year":2005,"month":3,"date":1,"utc":true},{"year":2005,"month":10,"date":1,"utc":true},{"year":2006,"month":5,"date":1,"utc":true},{"year":2006,"month":12,"date":1,"utc":true},{"year":2007,"month":7,"date":1,"utc":true},{"year":2008,"month":2,"date":1,"utc":true},{"year":2008,"month":9,"date":1,"utc":true},{"year":2009,"month":4,"date":1,"utc":true},{"year":2009,"month":11,"date":1,"utc":true}]}},
            "x2": {"field": "b"},
            "y": {"field": "lo", "type": "quantitative",
                  "scale": {"domain": [-0.8958, 1.0956], "nice": false, "zero": false},
                  "axis": {"offset": -55, "format": "~g", "tickCount": 60, "labelOverlap": false, "labelBound": false, "labelFlush": false, "values": [-0.8, -0.6, -0.4, -0.2, 0, 0.2, 0.4, 0.6, 0.8, 1]}},
            "y2": {"field": "hi"}
          }
        },
        {
          "data": {"values": [{}]},
          "mark": {"type": "rule", "color": "#888888", "strokeWidth": 1},
          "encoding": {
            "x": {"datum": {"year":1999,"month":12,"date":1,"utc":true}, "type": "temporal"},
            "x2": {"datum": {"year":2010,"month":2,"date":1,"utc":true}},
            "y": {"datum": 0, "type": "quantitative"}
          }
        },
        {
          "data": {"values": [{}]},
          "mark": {"type": "rule", "color": "#888888", "strokeWidth": 1},
          "encoding": {
            "x": {"datum": {"year":1999,"month":12,"date":1,"utc":true}, "type": "temporal"},
            "y": {"datum": -0.8, "type": "quantitative"},
            "y2": {"datum": 1}
          }
        },
        {
          "data": {"name": "ca"},
          "transform": [{"fold": ["u", "g"], "as": ["s", "v"]}, {"filter": "isValid(datum.v)"}],
          "mark": {"type": "line", "color": "black"},
          "encoding": {
            "x": {"field": "d", "type": "temporal"},
            "y": {"field": "v", "type": "quantitative"},
            "strokeDash": {"field": "s", "type": "nominal",
              "scale": {"domain": ["u", "g"], "range": [[2.3, 3.2], [1, 0]]},
              "legend": {"title": null, "orient": "none", "legendX": 94.1, "legendY": 356.2, "symbolType": "M-2.889,0L2.889,0", "symbolSize": 324, "labelOffset": 13.5,
                "labelExpr": "datum.value == 'u' ? 'Correlation with US Treasuries Shift Factor' : 'Correlation with Global Emerging Market Bond Factor'"}},
            "strokeWidth": {"field": "s", "type": "nominal", "scale": {"domain": ["u", "g"], "range": [2.5, 3.2]}, "legend": null}
          }
        },
        {
          "data": {"values": [
            {"x": "2007-09-29", "y": 3.649, "x2": "2006-01-01", "y2": 3.12},
            {"x": "2006-08-24", "y": 3.649, "x2": "1997-01-06", "y2": 0.902},
            {"x": "2010-04-16", "y": 2.776, "x2": "2009-09-22", "y2": 0.845}
          ]},
          "mark": {"type": "rule", "color": "black", "strokeWidth": 2, "strokeDash": [2, 2.5]},
          "encoding": {
            "x": {"field": "x", "type": "temporal"},
            "x2": {"field": "x2"},
            "y": {"field": "y", "type": "quantitative"},
            "y2": {"field": "y2"}
          }
        },
        {
          "data": {"values": [{"x": "2006-01-01", "y": 3.12}]},
          "mark": {"type": "point", "shape": "M0,0L0.55,1.6L0,1.15L-0.55,1.6Z", "size": 400, "angle": 218.9, "filled": true, "color": "black", "opacity": 1},
          "encoding": {"x": {"field": "x", "type": "temporal"}, "y": {"field": "y", "type": "quantitative"}}
        },
        {
          "data": {"values": [{"x": "1997-01-06", "y": 0.902}]},
          "mark": {"type": "point", "shape": "M0,0L0.55,1.6L0,1.15L-0.55,1.6Z", "size": 400, "angle": 220.6, "filled": true, "color": "black", "opacity": 1},
          "encoding": {"x": {"field": "x", "type": "temporal"}, "y": {"field": "y", "type": "quantitative"}}
        },
        {
          "data": {"values": [{"x": "2009-09-22", "y": 0.845}]},
          "mark": {"type": "point", "shape": "M0,0L0.55,1.6L0,1.15L-0.55,1.6Z", "size": 400, "angle": 184.2, "filled": true, "color": "black", "opacity": 1},
          "encoding": {"x": {"field": "x", "type": "temporal"}, "y": {"field": "y", "type": "quantitative"}}
        }
      ]
    }
  ],
  "columns": 2,
  "spacing": {"row": 71.5, "column": 8.4},
  "bounds": "flush",
  "resolve": {
    "scale": {"strokeDash": "independent", "strokeWidth": "independent"},
    "legend": {"strokeDash": "independent", "strokeWidth": "independent"}
  },
  "config": {
    "locale": {"number": {"decimal": ".", "thousands": ",", "grouping": [3], "currency": ["$", ""], "minus": "-"}},
    "view": {"stroke": "#8a8a8a", "strokeWidth": 1.5},
    "title": {"font": "Liberation Sans", "fontSize": 25, "fontWeight": "normal", "color": "black", "anchor": "middle", "frame": "group", "offset": 4.2, "baseline": "alphabetic"},
    "axisX": {"labelAngle": -90, "labelAlign": "right", "labelBaseline": "middle", "labelFont": "Lato", "labelFontSize": 15.5, "labelColor": "#8c8c8c", "tickColor": "#888888", "tickSize": 5, "labelPadding": 12, "labelDx": 4, "domain": false, "grid": false, "labelOverlap": false, "labelFlush": false, "labelBound": false, "title": null},
    "axisY": {"labelFont": "Lato", "labelFontSize": 16, "labelColor": "#8c8c8c", "tickColor": "#888888", "tickSize": 5, "labelPadding": 11, "domain": false, "grid": false, "labelOverlap": false, "title": null},
    "legend": {"symbolStrokeWidth": 3, "symbolStrokeColor": "black", "labelFont": "Lato", "labelFontSize": 16.8, "labelColor": "black", "labelLimit": 0, "padding": 0}
  }
}
